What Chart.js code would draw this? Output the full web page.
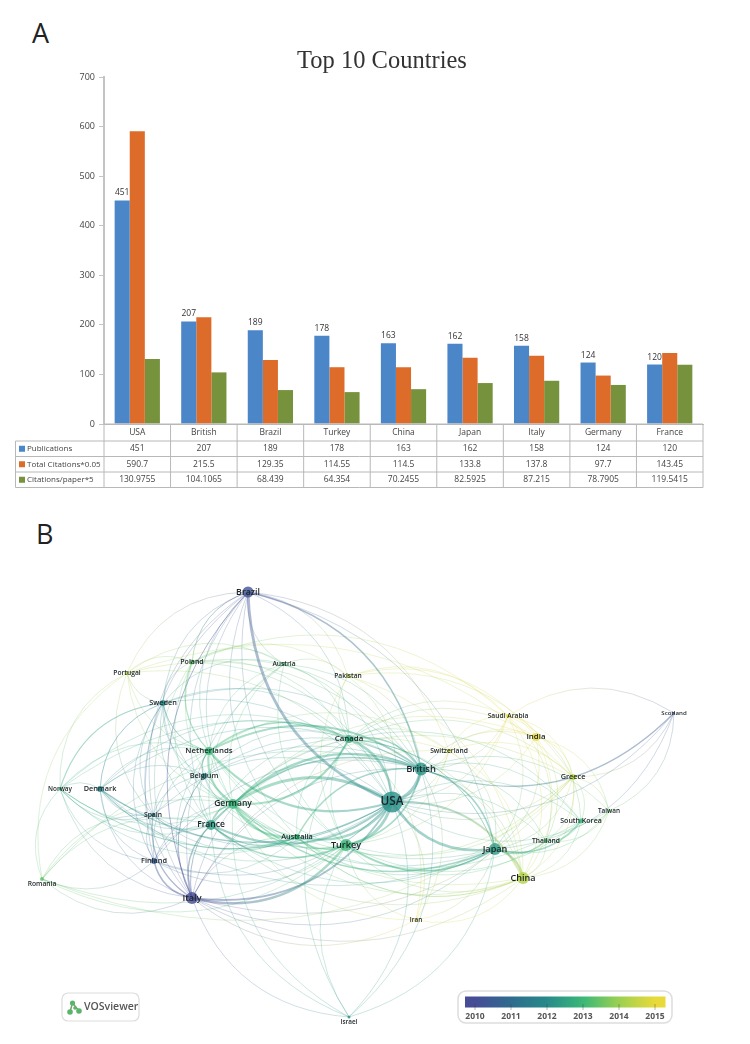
<!DOCTYPE html>
<html>
<head>
<meta charset="utf-8">
<title>Top 10 Countries</title>
<script src="https://cdn.jsdelivr.net/npm/chart.js@4"></script>
<style>
  body { margin:0; background:#fff; width:750px; height:1044px; position:relative; overflow:hidden; }
  canvas { position:absolute; left:0; }
  #barChart { top:0; }
  #mapChart { top:520px; filter:blur(0.35px); }
  .panel { position:absolute; font:27px "Open Sans", sans-serif; color:#222; line-height:30px; }
</style>
</head>
<body>
<div class="panel" style="left:32px;top:18px">A</div>
<div class="panel" style="left:36px;top:519px">B</div>
<canvas id="barChart" width="750" height="500"></canvas>
<canvas id="mapChart" width="750" height="524"></canvas>
<script>
const countries = ["USA","British","Brazil","Turkey","China","Japan","Italy","Germany","France"];
const publications = [451,207,189,178,163,162,158,124,120];
const totalCitations = [590.7,215.5,129.35,114.55,114.5,133.8,137.8,97.7,143.45];
const citationsPerPaper = [130.9755,104.1065,68.439,64.354,70.2455,82.5925,87.215,78.7905,119.5415];
const valueTicks = [0,100,200,300,400,500,600,700];

// map positions
const nodeNames = ["Brazil","Poland","Portugal","Austria","Pakistan","Sweden","Canada","Netherlands","Belgium","Norway","Denmark","Germany","Spain","France","Australia","Turkey","Finland","Romania","Italy","Israel","Saudi Arabia","India","Switzerland","British","Scotland","Greece","USA","Taiwan","South Korea","Thailand","Japan","China","Iran"];
const nodeX = [248,192,127,284,348,163,349,209,204,60,100,233,153,211,297,346,154,42,192,349,508,536,449,421,674,573,392,609,581,546,495,523,416];
const nodeY = [592,662,673,664,676,703,739,751,776,789,789,804,815,825,837,845,861,879,898,1017,716,737,751,769,713,777,802,811,821,841,849,878,920];
const nodeWeight = [5.5,2.5,2,2,2,3,4,4,3,1.5,3,5,2,5,3,6,3,2,6,1.5,2,4,2,6.5,1,3,10.5,1.5,2.5,2,6,6,1.5];
const nodeYear = [2010.2,2013.4,2014.3,2013.2,2014.4,2012,2012.7,2013,2011.9,2012.8,2011.9,2013,2011.4,2012.4,2013,2013,2010.5,2013.4,2010,2012.2,2015,2015,2014.7,2012.2,2010.3,2014.4,2012.1,2013.5,2013,2013.3,2012.4,2014.3,2015];
const belowLabels = ["Romania","Israel"];

const mainLinks = [
  ["USA","British",3.5],["USA","Canada",2.5],["USA","Germany",3],["USA","Japan",2.5],["USA","Turkey",3],["USA","Brazil",2.8],
  ["USA","Netherlands",2.2],["USA","Australia",2.2],["USA","France",2.2],["USA","China",2],["USA","Italy",1.8],
  ["British","Canada",1.5],["British","Germany",2.2],["British","Japan",1.5],["British","Netherlands",1.8],["British","Australia",1.5],
  ["British","Brazil",1.5],["British","France",1.5],["British","Turkey",1.5],["Germany","Netherlands",2.2],["Germany","Canada",2.2],
  ["Germany","Turkey",1.5],["Germany","France",1.5],["Germany","Australia",1.8],["Germany","Japan",1.5],["Japan","China",2.2],
  ["Japan","South Korea",1.5],["Japan","Thailand",1.2],["Turkey","Italy",2.4],["Italy","France",1.5],["Italy","Finland",1.5],
  ["Italy","Spain",1.2],["Italy","Germany",1],["Brazil","Poland",1],["Brazil","Italy",1],["Scotland","British",1.3],
  ["Turkey","Japan",1.6],["Turkey","Australia",1.5],["Turkey","France",1.5],["France","Australia",1.5],["Netherlands","Belgium",1.2],
  ["Netherlands","Sweden",1],["Netherlands","Poland",1.2],["Netherlands","Canada",1.5],["Sweden","Norway",1.2],
  ["Sweden","Denmark",1],["Denmark","USA",1.2],["Norway","USA",1]
];
// links that bow towards the middle of the map
const inwardLinks = ["USA-Brazil","USA-Germany","USA-Japan","Germany-Canada","USA-Netherlands","Scotland-British"];
const thinLinks = [
  ["Brazil",["Portugal","Austria","Pakistan","Sweden","Netherlands","Germany","France","Canada","Spain","Finland","Japan","Turkey","Australia","Switzerland"]],
  ["Poland",["Portugal","Sweden","Austria","Germany","Italy","USA","British","Canada","France","Saudi Arabia","Pakistan"]],
  ["Portugal",["Sweden","Austria","Netherlands","Germany","Spain","British","USA","Norway","Romania","Greece"]],
  ["Austria",["Sweden","Germany","Netherlands","Canada","USA","British","France","Turkey","Italy","Pakistan"]],
  ["Pakistan",["USA","British","Saudi Arabia","India","Turkey","China","Canada","Greece"]],
  ["Sweden",["Belgium","Germany","France","Canada","USA","British","Spain","Italy","Finland","Australia"]],
  ["Norway",["Denmark","Netherlands","Germany","British","France","Romania","Italy","Spain","Finland","Canada"]],
  ["Denmark",["Netherlands","Germany","France","Canada","British","Italy","Spain","Finland","Turkey","Japan","Belgium"]],
  ["Romania",["Italy","France","Germany","USA","Turkey","Spain","British","Greece","Finland"]],
  ["Belgium",["Germany","France","USA","British","Canada","Spain","Italy","Australia","Japan"]],
  ["Spain",["France","Germany","Finland","USA","British","Netherlands","Australia"]],
  ["Finland",["France","Germany","USA","British","Netherlands","Australia","Turkey"]],
  ["Italy",["Israel","Australia","Japan","China","Canada","British","Netherlands","Belgium","Iran","Greece","Switzerland"]],
  ["Israel",["USA","Turkey","British","Germany","France","Canada","Japan"]],
  ["Iran",["USA","Turkey","Japan","China","British","Canada","Germany"]],
  ["Canada",["Australia","Turkey","Japan","China","India","Saudi Arabia","Switzerland","Greece","France","South Korea"]],
  ["Switzerland",["USA","British","Germany","Japan","China","India","Saudi Arabia","Greece","Turkey","Netherlands"]],
  ["Saudi Arabia",["India","British","USA","Greece","Japan","China","Thailand","Turkey","South Korea","Scotland"]],
  ["India",["USA","British","Greece","Japan","China","Taiwan","Thailand","Germany"]],
  ["Greece",["Taiwan","South Korea","Thailand","USA","Japan","China","Germany","Turkey","Scotland"]],
  ["Taiwan",["Scotland","South Korea","Thailand","USA","Japan","China","British"]],
  ["South Korea",["Thailand","USA","British","China","Germany","Turkey"]],
  ["Thailand",["USA","British","China","Turkey"]],
  ["China",["Turkey","Germany","British","Australia","France","Netherlands"]],
  ["Japan",["Netherlands","France","Australia","Canada"]],
  ["Australia",["Netherlands","Denmark","Norway","Greece","China"]],
  ["Scotland",["USA","Japan"]]
];
const yearTicks = [2010,2011,2012,2013,2014,2015];
const yearColors = [[70,76,150],[46,108,142],[38,138,138],[58,184,120],[156,208,80],[232,218,58]];

function yearColor(year, alpha){
  const t = Math.min(4.999, Math.max(0, year - 2010));
  const i = Math.floor(t), f = t - i;
  const c = yearColors[i].map((v,k) => Math.round(v + (yearColors[i+1][k]-v)*f));
  return `rgba(${c[0]},${c[1]},${c[2]},${alpha})`;
}

const textColor = "#444";
const barColors = ["#4a86c8","#dd6b2a","#76923c"];

// data labels over the blue bars, and the data table under the axis
const barExtras = {
  id:"barExtras",
  afterDatasetsDraw(chart){
    const {ctx, scales:{x}, chartArea} = chart;
    ctx.save();
    ctx.font = '8.5px "Open Sans", sans-serif';
    ctx.fillStyle = "#333";
    ctx.textAlign = "center";
    ctx.textBaseline = "alphabetic";
    chart.getDatasetMeta(0).data.forEach((bar,i) => ctx.fillText(publications[i], bar.x, bar.y - 5));

    const step = x.getPixelForValue(1) - x.getPixelForValue(0);
    const rows = [publications, totalCitations, citationsPerPaper];
    const names = chart.data.datasets.map(d => d.label);
    const top = chartArea.bottom, headH = 17, rowH = 15.5;
    const left = 15.5, right = chartArea.right, bottom = top + headH + rowH*3;
    ctx.strokeStyle = "#b8b8b8";
    ctx.lineWidth = 1;
    ctx.beginPath();
    for(let i = 0; i <= countries.length; i++){
      const px = chartArea.left + step*i;
      ctx.moveTo(px, top); ctx.lineTo(px, bottom);
    }
    ctx.moveTo(chartArea.left, top); ctx.lineTo(right, top);
    for(let r = 0; r <= 3; r++){
      const py = top + headH + rowH*r;
      ctx.moveTo(left, py); ctx.lineTo(right, py);
    }
    ctx.moveTo(left, top + headH); ctx.lineTo(left, bottom);
    ctx.stroke();

    ctx.fillStyle = textColor;
    ctx.textBaseline = "middle";
    rows.forEach((row,r) => {
      const py = top + headH + rowH*r + rowH/2;
      ctx.fillStyle = barColors[r];
      ctx.fillRect(19, py - 3, 6, 6);
      ctx.fillStyle = textColor;
      ctx.textAlign = "left";
      ctx.font = '8px "Open Sans", sans-serif';
      ctx.fillText(names[r], 27, py);
      ctx.textAlign = "center";
      ctx.font = '8.5px "Open Sans", sans-serif';
      row.forEach((v,i) => ctx.fillText(v, x.getPixelForValue(i), py));
    });
    ctx.restore();
  }
};

new Chart(document.getElementById("barChart"), {
  type:"bar",
  data:{
    labels:countries,
    datasets:[
      {label:"Publications", data:publications, backgroundColor:barColors[0]},
      {label:"Total Citations*0.05", data:totalCitations, backgroundColor:barColors[1]},
      {label:"Citations/paper*5", data:citationsPerPaper, backgroundColor:barColors[2]}
    ]
  },
  options:{
    responsive:false,
    animation:false,
    layout:{padding:{left:61,right:47,top:0,bottom:0}},
    datasets:{bar:{categoryPercentage:0.68, barPercentage:1}},
    plugins:{
      legend:{display:false},
      tooltip:{enabled:false},
      title:{display:true, text:"Top 10 Countries", color:"#333",
        font:{family:'"Liberation Serif", serif', size:24.5, weight:"normal"},
        padding:{top:47,bottom:0.6}}
    },
    scales:{
      x:{
        grid:{display:false, drawTicks:false},
        border:{color:"#b8b8b8"},
        ticks:{color:textColor, font:{family:'"Open Sans", sans-serif', size:8.5}, padding:3, maxRotation:0},
        afterFit(scale){ scale.height = 76; }
      },
      y:{
        min:0, max:700,
        afterBuildTicks(scale){ scale.ticks = valueTicks.map(value => ({value})); },
        grid:{drawOnChartArea:false, tickLength:5, color:"#c4c4c4"},
        border:{color:"#c4c4c4", width:2},
        ticks:{color:textColor, font:{family:'"Open Sans", sans-serif', size:9}, padding:4},
        afterFit(scale){ scale.width = 43; }
      }
    }
  },
  plugins:[barExtras]
});

const nodeIndex = Object.fromEntries(nodeNames.map((n,i) => [n,i]));
const allLinks = mainLinks.concat(thinLinks.flatMap(([from,list]) => list.map(to => [from,to,0.8])));

function drawLink(ctx, scales, from, to, weight){
  const a = nodeIndex[from], b = nodeIndex[to];
  const x1 = scales.x.getPixelForValue(nodeX[a]), y1 = scales.y.getPixelForValue(nodeY[a]);
  const x2 = scales.x.getPixelForValue(nodeX[b]), y2 = scales.y.getPixelForValue(nodeY[b]);
  const mx = (x1+x2)/2, my = (y1+y2)/2;
  const c = {x:scales.x.getPixelForValue(370), y:scales.y.getPixelForValue(800)};
  const nx = y2-y1, ny = x1-x2;
  let side = (nx*(mx-c.x) + ny*(my-c.y)) >= 0 ? 1 : -1;
  if(inwardLinks.includes(from+"-"+to)) side = -side;
  const bend = 0.32*side;
  const grad = ctx.createLinearGradient(x1,y1,x2,y2);
  const alpha = weight < 1 ? 0.3 : 0.42;
  grad.addColorStop(0, yearColor(nodeYear[a], alpha));
  grad.addColorStop(1, yearColor(nodeYear[b], alpha));
  ctx.strokeStyle = grad;
  ctx.lineWidth = weight;
  ctx.beginPath();
  ctx.moveTo(x1,y1);
  ctx.quadraticCurveTo(mx + nx*bend, my + ny*bend, x2, y2);
  ctx.stroke();
}

const mapExtras = {
  id:"mapExtras",
  beforeDatasetsDraw(chart){
    const {ctx, scales} = chart;
    ctx.save();
    ctx.lineCap = "round";
    allLinks.filter(l => l[2] < 1).forEach(l => drawLink(ctx, scales, l[0], l[1], l[2]));
    allLinks.filter(l => l[2] >= 1).forEach(l => drawLink(ctx, scales, l[0], l[1], l[2]));
    ctx.restore();
  },
  afterDatasetsDraw(chart){
    const {ctx, scales} = chart;
    ctx.save();
    ctx.textAlign = "center";
    ctx.textBaseline = "middle";
    ctx.fillStyle = "#1c2326";
    nodeNames.forEach((name,i) => {
      const size = 5.5 + nodeWeight[i]*0.6;
      ctx.font = `600 ${size}px "Open Sans", sans-serif`;
      const below = belowLabels.includes(name) ? 5.5 : 0;
      ctx.fillText(name, scales.x.getPixelForValue(nodeX[i]), scales.y.getPixelForValue(nodeY[i]) + below);
    });

    // colour bar
    const px = v => scales.x.getPixelForValue(v), py = v => scales.y.getPixelForValue(v);
    ctx.strokeStyle = "#ddd";
    ctx.lineWidth = 1.5;
    ctx.beginPath();
    ctx.roundRect(px(458), py(991), 214, 32, 8);
    ctx.stroke();
    const yearPx = y => 475 + (y-2010)*36;
    const grad = ctx.createLinearGradient(px(465),0,px(665.5),0);
    for(let s = 0; s <= 20; s++){
      const year = 2009.72 + (5.57*s)/20;
      grad.addColorStop(s/20, yearColor(year,1));
    }
    ctx.fillStyle = grad;
    ctx.fillRect(px(465), py(996.5), 200.5, 11);
    ctx.strokeStyle = "rgba(60,60,60,.55)";
    ctx.lineWidth = 0.7;
    ctx.font = '700 8.5px "Open Sans", sans-serif';
    ctx.fillStyle = "#555";
    yearTicks.forEach(y => {
      ctx.beginPath();
      ctx.moveTo(px(yearPx(y)), py(1004));
      ctx.lineTo(px(yearPx(y)), py(1010));
      ctx.stroke();
      ctx.fillText(y, px(yearPx(y)), py(1016.5));
    });

    // VOSviewer badge
    ctx.strokeStyle = "#ddd";
    ctx.lineWidth = 1.2;
    ctx.beginPath();
    ctx.roundRect(px(62), py(993), 77, 28, 6);
    ctx.stroke();
    ctx.strokeStyle = "#7d9a6a";
    ctx.lineWidth = 1.5;
    ctx.beginPath();
    ctx.moveTo(px(72.5),py(1003)); ctx.lineTo(px(70),py(1012));
    ctx.moveTo(px(72.5),py(1003)); ctx.lineTo(px(79),py(1011));
    ctx.stroke();
    ctx.fillStyle = "#59b56b";
    [[72.5,1003,2.6],[70,1012,2.8],[79,1011,2.8],[75,1008,1.8]].forEach(d => {
      ctx.beginPath(); ctx.arc(px(d[0]),py(d[1]),d[2],0,Math.PI*2); ctx.fill();
    });
    ctx.fillStyle = "#555";
    ctx.textAlign = "left";
    ctx.font = '600 10.5px "Open Sans", sans-serif';
    ctx.fillText("VOSviewer", px(84), py(1007));
    ctx.restore();
  }
};

new Chart(document.getElementById("mapChart"), {
  type:"bubble",
  data:{
    datasets:[{
      label:"Countries",
      data:nodeNames.map((n,i) => ({x:nodeX[i], y:nodeY[i], r:nodeWeight[i]})),
      backgroundColor:nodeYear.map(y => yearColor(y,0.8)),
      borderWidth:0,
      clip:false
    }]
  },
  options:{
    responsive:false,
    animation:false,
    layout:{padding:0, autoPadding:false},
    plugins:{legend:{display:false}, tooltip:{enabled:false}},
    scales:{
      x:{type:"linear", display:false, min:0, max:750},
      y:{type:"linear", display:false, min:520, max:1044, reverse:true}
    }
  },
  plugins:[mapExtras]
});
</script>
</body>
</html>
